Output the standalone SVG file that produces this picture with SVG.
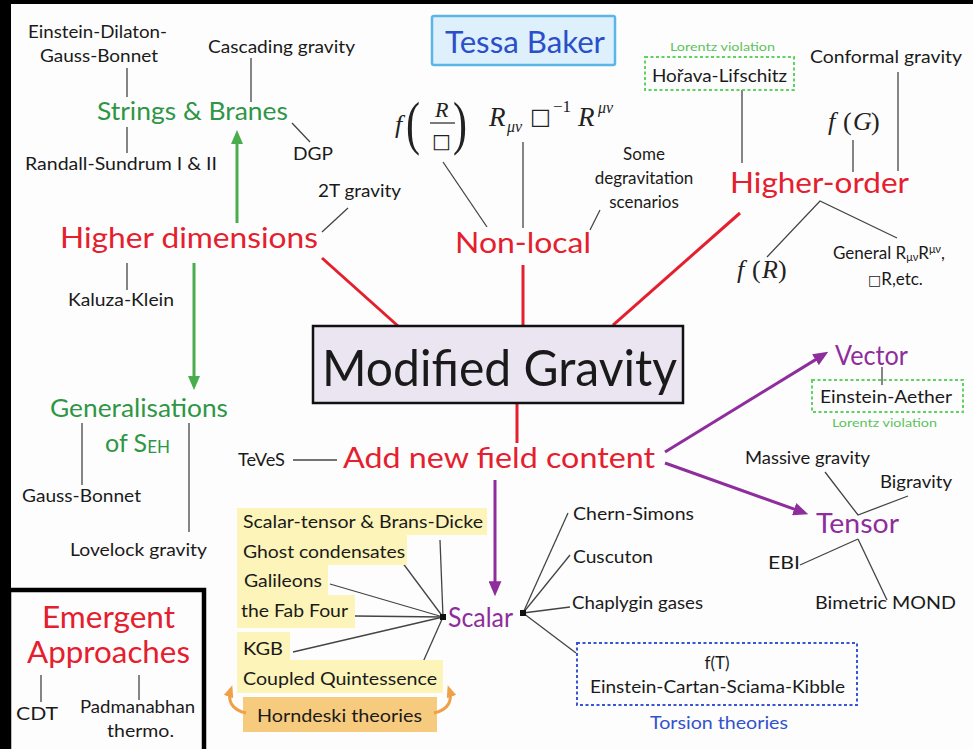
<svg xmlns="http://www.w3.org/2000/svg" width="973" height="749" viewBox="0 0 973 749">
<style>
text{font-family:Lato,"Open Sans","Noto Sans",sans-serif;fill:#1a1a1a}
.s{font-size:17px}
.red{fill:#e5202e;font-size:28px}
.grn{fill:#2e9645;font-size:25px}
.pur{fill:#8e2d9c;font-size:26px}
.lv{fill:#5cc35c;font-size:12px}
.m{font-family:"Liberation Serif","Times New Roman",serif;font-style:italic;fill:#222}
.mu{font-family:"Liberation Serif","Times New Roman",serif;font-style:normal;fill:#222}
.box{font-family:"DejaVu Sans",sans-serif;font-style:normal}
.ln{stroke:#444;stroke-width:1.3;fill:none}
.rl{stroke:#e5202e;stroke-width:3;fill:none}
.gl{stroke:#49ad4d;stroke-width:3;fill:none;marker-end:url(#ag)}
.pl{stroke:#8e2d9c;stroke-width:3;fill:none;marker-end:url(#ap)}
.ol{stroke:#f0a048;stroke-width:3;fill:none;marker-end:url(#ao)}
.yel{fill:#fcf4b8}
</style>
<defs>
<marker id="ag" markerUnits="userSpaceOnUse" viewBox="0 0 14 12" refX="10" refY="6" markerWidth="14" markerHeight="12" orient="auto"><path d="M0,0 L14,6 L0,12 z" fill="#49ad4d"/></marker>
<marker id="ap" markerUnits="userSpaceOnUse" viewBox="0 0 14 12" refX="10" refY="6" markerWidth="15" markerHeight="13" orient="auto"><path d="M0,0 L14,6 L0,12 z" fill="#8e2d9c"/></marker>
<marker id="ao" markerUnits="userSpaceOnUse" viewBox="0 0 12 10" refX="8" refY="5" markerWidth="12" markerHeight="10" orient="auto"><path d="M0,0 L12,5 L0,10 z" fill="#f0a048"/></marker>
</defs>
<rect x="0" y="0" width="973" height="749" fill="#fdfdfd"/>
<rect x="0" y="0" width="973" height="4" fill="#000"/>
<rect x="0" y="0" width="11" height="749" fill="#000"/>

<g id="connectors">
<line class="ln" x1="127" y1="68" x2="127" y2="97"/>
<line class="ln" x1="127" y1="127" x2="127" y2="153"/>
<line class="ln" x1="251" y1="58" x2="251" y2="102"/>
<line class="ln" x1="292" y1="123" x2="310" y2="142"/>
<line class="ln" x1="348" y1="208" x2="322" y2="232"/>
<line class="ln" x1="127" y1="263" x2="127" y2="290"/>
<line class="gl" x1="237" y1="223" x2="237" y2="134"/>
<line class="gl" x1="194" y1="263" x2="194" y2="386"/>
<line class="ln" x1="82" y1="423" x2="82" y2="485"/>
<line class="ln" x1="189" y1="423" x2="189" y2="532"/>
<line class="ln" x1="41" y1="675" x2="41" y2="702"/>
<line class="ln" x1="139" y1="675" x2="139" y2="700"/>
<line class="ln" x1="443" y1="162" x2="487" y2="227"/>
<line class="ln" x1="523" y1="142" x2="523" y2="228"/>
<line class="ln" x1="600" y1="210" x2="590" y2="230"/>
<line class="ln" x1="742" y1="90" x2="742" y2="163"/>
<line class="ln" x1="898" y1="72" x2="898" y2="171"/>
<line class="ln" x1="853" y1="140" x2="853" y2="172"/>
<polyline class="ln" points="767,257 820,201 897,238"/>
<line class="rl" x1="322" y1="258" x2="398" y2="326"/>
<line class="rl" x1="523" y1="265" x2="523" y2="326"/>
<line class="rl" x1="740" y1="213" x2="613" y2="325"/>
<line class="rl" x1="517" y1="403" x2="517" y2="443"/>
<line class="ln" x1="293" y1="460" x2="337" y2="460"/>
<line class="pl" x1="665" y1="452" x2="824.6" y2="354.1"/>
<line class="pl" x1="665" y1="463" x2="804.2" y2="512.7"/>
<line class="pl" x1="495" y1="480" x2="495" y2="592"/>
<line class="ln" x1="882" y1="367" x2="882" y2="385"/>
<polyline class="ln" points="825,472 858,515 908,496"/>
<line class="ln" x1="800" y1="565" x2="858" y2="539"/>
<line class="ln" x1="858" y1="539" x2="887" y2="600"/>
<line class="ln" x1="443" y1="617" x2="440" y2="540"/>
<line class="ln" x1="443" y1="617" x2="402" y2="562"/>
<line class="ln" x1="443" y1="617" x2="330" y2="584"/>
<line class="ln" x1="443" y1="617" x2="355" y2="616"/>
<line class="ln" x1="443" y1="617" x2="293" y2="652"/>
<line class="ln" x1="443" y1="617" x2="419" y2="671"/>
<line class="ln" x1="523" y1="613" x2="568" y2="513"/>
<line class="ln" x1="523" y1="613" x2="570" y2="555"/>
<line class="ln" x1="523" y1="613" x2="570" y2="607"/>
<line class="ln" x1="523" y1="613" x2="576" y2="653"/>
<rect x="440" y="614" width="6" height="6" fill="#111"/>
<rect x="520" y="610" width="6" height="6" fill="#111"/>
</g>

<g id="title">
<rect x="432" y="16" width="183" height="49" fill="#ddf0fb" stroke="#5ab6e8" stroke-width="2.5" rx="2"/>
<text x="445" y="53" font-size="30" style="fill:#2a4fc8" textLength="160" lengthAdjust="spacingAndGlyphs">Tessa Baker</text>
</g>

<g id="edgb"><text class="s" x="28" y="38" textLength="139" lengthAdjust="spacingAndGlyphs">Einstein-Dilaton-</text><text class="s" x="40" y="62" textLength="118" lengthAdjust="spacingAndGlyphs">Gauss-Bonnet</text></g>
<g id="cascading"><text class="s" x="208" y="53" textLength="147" lengthAdjust="spacingAndGlyphs">Cascading gravity</text></g>
<g id="strings"><text class="grn" x="97" y="120" textLength="191" lengthAdjust="spacingAndGlyphs">Strings &amp; Branes</text></g>
<g id="rs"><text class="s" x="25" y="170" textLength="192" lengthAdjust="spacingAndGlyphs">Randall-Sundrum I &amp; II</text></g>
<g id="dgp"><text class="s" x="293" y="160" textLength="40" lengthAdjust="spacingAndGlyphs">DGP</text></g>
<g id="twoT"><text class="s" x="318" y="197" textLength="83" lengthAdjust="spacingAndGlyphs">2T gravity</text></g>
<g id="higherdim"><text class="red" x="60" y="248" textLength="258" lengthAdjust="spacingAndGlyphs">Higher dimensions</text></g>
<g id="kk"><text class="s" x="68" y="306" textLength="106" lengthAdjust="spacingAndGlyphs">Kaluza-Klein</text></g>
<g id="generalisations"><text class="grn" x="50" y="417" textLength="178" lengthAdjust="spacingAndGlyphs">Generalisations</text><text class="grn" x="105" y="452">of S<tspan font-size="17" dy="1">EH</tspan></text></g>
<g id="gb"><text class="s" x="22" y="502" textLength="119" lengthAdjust="spacingAndGlyphs">Gauss-Bonnet</text></g>
<g id="lovelock"><text class="s" x="70" y="556" textLength="137" lengthAdjust="spacingAndGlyphs">Lovelock gravity</text></g>

<g id="emergent">
<rect x="9" y="590" width="195" height="175" fill="none" stroke="#000" stroke-width="4.5"/>
<rect x="0" y="588" width="11" height="161" fill="#000"/>
<text class="red" x="42" y="628" style="font-size:30px" textLength="133" lengthAdjust="spacingAndGlyphs">Emergent</text>
<text class="red" x="27" y="663" style="font-size:30px" textLength="163" lengthAdjust="spacingAndGlyphs">Approaches</text>
</g>
<g id="cdt"><text class="s" x="16" y="720" textLength="42" lengthAdjust="spacingAndGlyphs">CDT</text></g>
<g id="padma"><text class="s" x="80" y="713" textLength="115" lengthAdjust="spacingAndGlyphs">Padmanabhan</text><text class="s" x="107" y="737" textLength="67" lengthAdjust="spacingAndGlyphs">thermo.</text></g>

<g id="fRbox">
<text class="m" x="395" y="133" font-size="26">f</text>
<text class="mu" x="406" y="143" font-size="60" textLength="14" lengthAdjust="spacingAndGlyphs">(</text>
<text class="m" x="435" y="117" font-size="22">R</text>
<line x1="430" y1="123" x2="455" y2="123" stroke="#222" stroke-width="1.2"/>
<text class="box" x="432" y="148" font-size="20" style="fill:#222">□</text>
<text class="mu" x="453" y="143" font-size="60" textLength="14" lengthAdjust="spacingAndGlyphs">)</text>
</g>
<g id="RboxR">
<text class="m" font-size="27"><tspan x="489" y="126">R</tspan><tspan x="507" y="132" font-size="16">μν</tspan></text>
<text class="box" x="530" y="124" font-size="22" style="fill:#222">□</text>
<text class="mu" x="553" y="112" font-size="17">−1</text>
<text class="m" font-size="27"><tspan x="578" y="126">R</tspan><tspan x="598" y="113" font-size="16">μν</tspan></text>
</g>
<g id="degrav"><text class="s" text-anchor="middle" x="644" y="160">Some</text><text class="s" text-anchor="middle" x="644" y="184">degravitation</text><text class="s" text-anchor="middle" x="644" y="208">scenarios</text></g>
<g id="nonlocal"><text class="red" x="455" y="253" textLength="136" lengthAdjust="spacingAndGlyphs">Non-local</text></g>

<g id="horava">
<text class="lv" x="670" y="51" textLength="105" lengthAdjust="spacingAndGlyphs">Lorentz violation</text>
<rect x="645" y="57" width="149" height="33" fill="none" stroke="#5fd35f" stroke-width="2" stroke-dasharray="3 2.5"/>
<text class="s" x="652" y="82" textLength="135" lengthAdjust="spacingAndGlyphs">Hořava-Lifschitz</text>
</g>
<g id="conformal"><text class="s" x="810" y="63" textLength="152" lengthAdjust="spacingAndGlyphs">Conformal gravity</text></g>
<g id="fG"><text class="m" x="828" y="130" font-size="26">f<tspan x="843" style="font-style:normal">(</tspan><tspan x="853">G</tspan><tspan x="871" style="font-style:normal">)</tspan></text></g>
<g id="higherorder"><text class="red" x="730" y="193" textLength="179" lengthAdjust="spacingAndGlyphs">Higher-order</text></g>
<g id="fR"><text class="m" x="737" y="278" font-size="26">f<tspan x="752" style="font-style:normal">(</tspan><tspan x="762">R</tspan><tspan x="778" style="font-style:normal">)</tspan></text></g>
<g id="general"><text class="s" x="833" y="259">General R<tspan font-size="11" dy="2">μν</tspan><tspan dy="-2">R</tspan><tspan font-size="11" dy="-6">μν</tspan><tspan dy="6">,</tspan></text><text class="s" x="868" y="285"><tspan class="box" font-size="14">□</tspan>R,etc.</text></g>

<g id="modgrav">
<rect x="313" y="326" width="370" height="77" fill="#ebe5f1" stroke="#111" stroke-width="2.5"/>
<text x="322" y="386" font-size="50" textLength="355" lengthAdjust="spacingAndGlyphs">Modified Gravity</text>
</g>
<g id="teves"><text class="s" x="238" y="466" textLength="47" lengthAdjust="spacingAndGlyphs">TeVeS</text></g>
<g id="addnew"><text class="red" x="343" y="468" textLength="312" lengthAdjust="spacingAndGlyphs">Add new field content</text></g>

<g id="vector"><text class="pur" x="835" y="365" textLength="73" lengthAdjust="spacingAndGlyphs">Vector</text></g>
<g id="aether">
<rect x="812" y="380" width="151" height="32" fill="none" stroke="#5fd35f" stroke-width="2" stroke-dasharray="3 2.5"/>
<text class="s" x="820" y="403" textLength="132" lengthAdjust="spacingAndGlyphs">Einstein-Aether</text>
<text class="lv" x="832" y="427" textLength="105" lengthAdjust="spacingAndGlyphs">Lorentz violation</text>
</g>
<g id="massive"><text class="s" x="745" y="464" textLength="125" lengthAdjust="spacingAndGlyphs">Massive gravity</text></g>
<g id="bigravity"><text class="s" x="880" y="488" textLength="72" lengthAdjust="spacingAndGlyphs">Bigravity</text></g>
<g id="tensor"><text class="pur" x="816" y="533" textLength="83" lengthAdjust="spacingAndGlyphs">Tensor</text></g>
<g id="ebi"><text class="s" x="768" y="569" textLength="32" lengthAdjust="spacingAndGlyphs">EBI</text></g>
<g id="bimetric"><text class="s" x="815" y="609" textLength="141" lengthAdjust="spacingAndGlyphs">Bimetric MOND</text></g>

<g id="scalarlist">
<rect class="yel" x="237" y="508" width="250" height="27"/>
<rect class="yel" x="237" y="535" width="170" height="30"/>
<rect class="yel" x="237" y="565" width="91" height="30"/>
<rect class="yel" x="237" y="595" width="118" height="33"/>
<rect class="yel" x="237" y="632" width="53" height="28"/>
<rect class="yel" x="237" y="660" width="206" height="33"/>
<text class="s" x="243" y="528" textLength="240" lengthAdjust="spacingAndGlyphs">Scalar-tensor &amp; Brans-Dicke</text>
<text class="s" x="243" y="558" textLength="162" lengthAdjust="spacingAndGlyphs">Ghost condensates</text>
<text class="s" x="244" y="587" textLength="78" lengthAdjust="spacingAndGlyphs">Galileons</text>
<text class="s" x="241" y="617" textLength="107" lengthAdjust="spacingAndGlyphs">the Fab Four</text>
<text class="s" x="243" y="655" textLength="40" lengthAdjust="spacingAndGlyphs">KGB</text>
<text class="s" x="243" y="685" textLength="194" lengthAdjust="spacingAndGlyphs">Coupled Quintessence</text>
</g>
<g id="horndeski">
<rect x="243" y="697" width="194" height="35" fill="#f6cb7e"/>
<text class="s" x="257" y="722" textLength="165" lengthAdjust="spacingAndGlyphs">Horndeski theories</text>
<path class="ol" d="M246,713 C232,710 227,701 231,689"/>
<path class="ol" d="M434,713 C448,710 453,701 449,689"/>
</g>
<g id="scalar"><text class="pur" x="448" y="627" textLength="65" lengthAdjust="spacingAndGlyphs">Scalar</text></g>
<g id="chern"><text class="s" x="573" y="520" textLength="121" lengthAdjust="spacingAndGlyphs">Chern-Simons</text></g>
<g id="cuscuton"><text class="s" x="573" y="563" textLength="80" lengthAdjust="spacingAndGlyphs">Cuscuton</text></g>
<g id="chaplygin"><text class="s" x="572" y="609" textLength="131" lengthAdjust="spacingAndGlyphs">Chaplygin gases</text></g>
<g id="torsion">
<rect x="577" y="643" width="280" height="62" fill="none" stroke="#3a55d0" stroke-width="2" stroke-dasharray="3 2.5"/>
<text class="s" x="717" y="669" text-anchor="middle">f(T)</text>
<text class="s" x="590" y="693" textLength="255" lengthAdjust="spacingAndGlyphs">Einstein-Cartan-Sciama-Kibble</text>
<text x="650" y="729" font-size="18" style="fill:#3252cc" textLength="138" lengthAdjust="spacingAndGlyphs">Torsion theories</text>
</g>
</svg>
